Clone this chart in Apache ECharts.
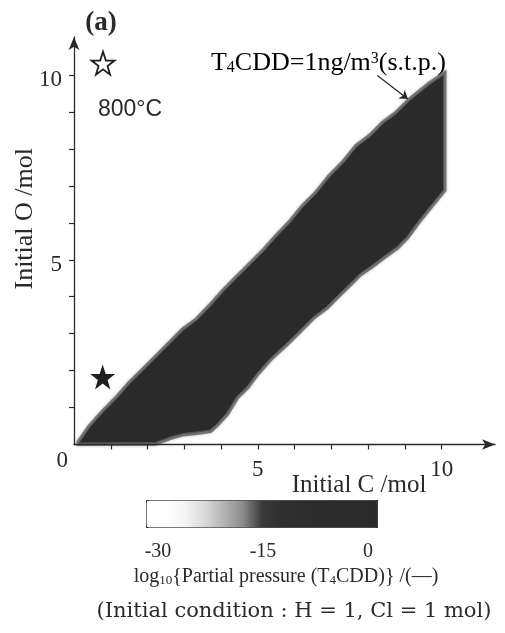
<!DOCTYPE html>
<html><head><meta charset="utf-8">
<script src="https://cdn.jsdelivr.net/npm/echarts@6/dist/echarts.min.js"></script>
<style>html,body{margin:0;padding:0;background:#fff}#c{width:505px;height:633px}</style>
</head><body><div id="c"></div>
<script>
// ---- data ----
// contour T4CDD = 1 ng/m3 : upper boundary (left -> right), Initial C / Initial O
const upperC = [0.15,0.44,0.80,1.16,1.52,1.98,2.34,2.61,2.97,3.34,3.70,4.06,4.42,4.79,5.15,5.51,5.87,6.24,6.60,6.96,7.32,7.69,8.05,8.41,8.78,9.14,9.68,10.05];
const upperO = [0.06,0.48,0.88,1.24,1.65,2.10,2.46,2.73,3.09,3.36,3.73,4.13,4.50,4.86,5.22,5.62,5.99,6.44,6.80,7.25,7.61,8.06,8.33,8.69,8.96,9.32,9.75,10.0];
// lower boundary (right -> left)
const lowerC = [10.05,9.68,9.32,9.05,8.78,8.41,8.05,7.78,7.51,7.23,6.87,6.51,6.15,5.78,5.33,4.97,4.70,4.42,4.15,3.88,3.70,3.34,2.97,2.61,2.20,0.15];
const lowerO = [6.89,6.44,5.99,5.62,5.35,5.08,4.81,4.63,4.36,4.09,3.73,3.46,3.10,2.74,2.33,1.92,1.56,1.29,0.85,0.55,0.39,0.34,0.30,0.20,0.05,0.04];
const bandLevel = 0;            // log10 partial pressure inside the band
const openStar = [0.79, 10.32];
const filledStar = [0.78, 1.83];
const arrowFrom = [8.25, 9.99];
const arrowTo = [9.08, 9.35];
const tickValues = [1,2,3,4,5,6,7,8,9,10];
const xLabelValues = [5, 10];
const yLabelValues = [0, 5, 10];
const colorbarTicks = [-30, -15, 0];
const colorbarColors = ['#ffffff','#ffffff','#f4f4f4','#dadada','#b4b4b4','#8c8c8c','#3a3a3a','#2f2f2f','#2d2d2d','#2c2c2c','#2b2b2b','#2b2b2b','#2a2a2a'];

// ---- build ----
const bandPoly = [];
upperC.forEach((c, i) => bandPoly.push([c, upperO[i], bandLevel]));
lowerC.forEach((c, i) => bandPoly.push([c, lowerO[i], bandLevel]));

const SERIF = '"Liberation Serif","DejaVu Serif",serif';
const WSERIF = '"DejaVu Serif","Liberation Serif",serif';
const SANS = '"Liberation Sans",Arial,sans-serif';
const INK = '#2a2a2a';
const starPath = 'path://M50,0 L61.8,35.1 L98.1,35.1 L68.8,56.8 L79.4,91.4 L50,70 L20.6,91.4 L31.2,56.8 L1.9,35.1 L38.2,35.1 Z';

const chart = echarts.init(document.getElementById('c'), null, {renderer: 'canvas'});
chart.setOption({
  animation: false,
  backgroundColor: '#fff',
  grid: [
    {left: 74, top: 37, right: 10, bottom: 188.5, outerBoundsMode: 'none', containLabel: false},
    {left: 158, width: 210, top: 527, height: 1, outerBoundsMode: 'none', containLabel: false}
  ],
  xAxis: [{
    type: 'value', min: 0, max: 11.45, gridIndex: 0,
    axisLine: {show: true, onZero: false, lineStyle: {color: INK, width: 1.3}, symbol: ['none', 'arrow'], symbolSize: [8, 13]},
    axisTick: {show: true, inside: false, length: 5, customValues: tickValues, lineStyle: {color: INK, width: 1.2}},
    axisLabel: {customValues: xLabelValues, margin: 14, fontFamily: SERIF, fontSize: 23, color: INK},
    splitLine: {show: false},
    name: 'Initial C /mol', nameLocation: 'middle', nameGap: 28, nameMoveOverlap: false,
    nameTextStyle: {fontFamily: SERIF, fontSize: 25, color: INK, padding: [0, 0, 0, 149]}
  }, {
    type: 'value', min: -30, max: 0, interval: 15, gridIndex: 1,
    axisLine: {show: false}, axisTick: {show: false}, splitLine: {show: false},
    axisLabel: {margin: 14, fontFamily: SERIF, fontSize: 20, color: INK, formatter: v => colorbarTicks.includes(v) ? String(v) : ''}
  }],
  yAxis: [{
    type: 'value', min: 0, max: 11.03, gridIndex: 0,
    axisLine: {show: true, onZero: false, lineStyle: {color: INK, width: 1.3}, symbol: ['none', 'arrow'], symbolSize: [8, 13]},
    axisTick: {show: true, inside: false, length: 5, customValues: tickValues, lineStyle: {color: INK, width: 1.2}},
    axisLabel: {customValues: yLabelValues, margin: 4,
      formatter: v => v === 0 ? '{z|0}' : '{n|' + v + '}',
      rich: {
        z: {fontFamily: SERIF, fontSize: 23, color: INK, padding: [32, 2, 0, 0]},
        n: {fontFamily: SERIF, fontSize: 23, color: INK, padding: [10, 8, 0, 0]}
      }},
    splitLine: {show: false},
    name: 'Initial O /mol', nameLocation: 'middle', nameGap: 36, nameRotate: 90, nameMoveOverlap: false,
    nameTextStyle: {fontFamily: SERIF, fontSize: 26, color: INK, padding: [0, 0, 0, 44]}
  }, {
    type: 'value', gridIndex: 1, show: false, min: 0, max: 1
  }],
  visualMap: {
    type: 'continuous', min: -30, max: 0, dimension: 2, seriesIndex: 0,
    orient: 'horizontal', left: 146, top: 500, itemWidth: 27, itemHeight: 231,
    calculable: false, text: null, showLabel: false, hoverLink: false, padding: 0,
    borderColor: '#222', borderWidth: 1,
    inRange: {color: colorbarColors}
  },
  series: [{
    type: 'custom', xAxisIndex: 0, yAxisIndex: 0, silent: true,
    data: bandPoly,
    renderItem: function (params, api) {
      if (params.dataIndex !== 0) return null;
      const pts = bandPoly.map(p => api.coord([p[0], p[1]]));
      const col = api.visual('color');
      return {type: 'group', children: [
        {type: 'polygon', shape: {points: pts}, style: {fill: 'none', stroke: 'rgba(45,43,40,0.55)', lineWidth: 6, shadowBlur: 3, shadowColor: 'rgba(40,40,40,0.6)'}},
        {type: 'polygon', shape: {points: pts}, style: {fill: col, stroke: '#555350', lineWidth: 1}}
      ]};
    },
    markLine: {
      silent: true, animation: false, symbol: ['none', 'arrow'], symbolSize: 8,
      lineStyle: {color: INK, width: 1.2, type: 'solid'}, label: {show: false},
      data: [[{coord: arrowFrom}, {coord: arrowTo}]]
    }
  }, {
    type: 'scatter', xAxisIndex: 0, yAxisIndex: 0, silent: true,
    symbol: starPath, symbolSize: 23,
    itemStyle: {color: '#fff', borderColor: '#1e1e1e', borderWidth: 1.8, opacity: 1},
    data: [openStar]
  }, {
    type: 'scatter', xAxisIndex: 0, yAxisIndex: 0, silent: true,
    symbol: starPath, symbolSize: 25,
    itemStyle: {color: '#1e1e1e', opacity: 1},
    data: [filledStar]
  }],
  graphic: [
    {type: 'text', x: 101, y: 23, style: {text: '(a)', font: 'bold 27px ' + SERIF, fill: INK, textAlign: 'center', textVerticalAlign: 'middle'}},
    {type: 'text', x: 98, y: 110, style: {text: '800°C', font: '23px ' + SANS, fill: INK, textAlign: 'left', textVerticalAlign: 'middle'}},
    {type: 'text', x: 446, y: 63, style: {
      text: '{n|T}{s|4}{n|CDD=1ng/m}{p|3}{n|(s.t.p.)}', textAlign: 'right', textVerticalAlign: 'middle',
      rich: {
        n: {fontFamily: SERIF, fontSize: 26, color: INK, lineHeight: 30, verticalAlign: 'middle'},
        s: {fontFamily: SERIF, fontSize: 16, color: INK, lineHeight: 30, verticalAlign: 'bottom', padding: [0, 0, 2, 0]},
        p: {fontFamily: SERIF, fontSize: 16, color: INK, lineHeight: 30, verticalAlign: 'top', padding: [3, 0, 0, 0]}
      }}},
    {type: 'text', x: 286, y: 577, style: {
      text: 'log{s|10}{Partial pressure (T{s|4}CDD)} /(—)', font: '20px ' + SERIF, fill: INK,
      textAlign: 'center', textVerticalAlign: 'middle',
      rich: {
        s: {fontFamily: SERIF, fontSize: 13, color: INK, lineHeight: 24, verticalAlign: 'bottom', padding: [0, 0, 2, 0]}
      }}},
    {type: 'text', x: 294, y: 612, style: {text: '(Initial condition : H = 1, Cl = 1 mol)', font: '21px ' + WSERIF, fill: INK, textAlign: 'center', textVerticalAlign: 'middle'}}
  ]
});
</script></body></html>
